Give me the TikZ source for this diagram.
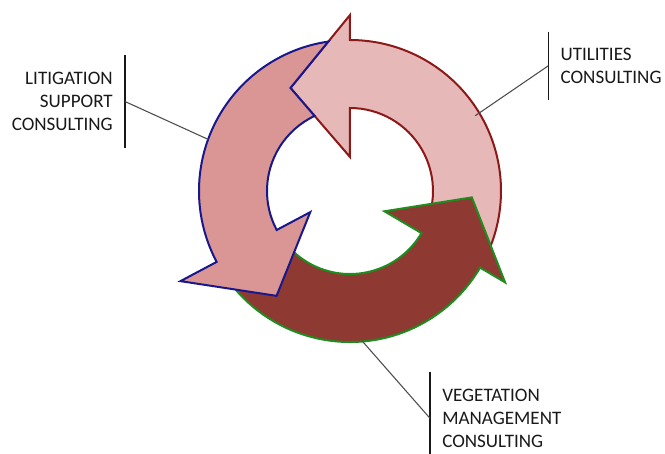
\documentclass[tikz,border=0pt]{standalone}
\usepackage{fontspec}
\setmainfont{Carlito}
\usetikzlibrary{calc}

\definecolor{utilfill}{RGB}{230,185,184}
\definecolor{utilline}{RGB}{140,24,24}
\definecolor{litfill}{RGB}{217,150,148}
\definecolor{litline}{RGB}{24,24,140}
\definecolor{vegfill}{RGB}{142,58,51}
\definecolor{vegline}{RGB}{30,140,30}

\begin{document}
\begin{tikzpicture}[x=0.75pt, y=0.75pt]
        \tikzset{band/.style={line width=1.5pt, line join=miter}}
        \tikzset{lbl/.style={font=\fontsize{14.3pt}{17pt}\selectfont, text=black!90,
            inner xsep=9pt, inner ysep=0pt, minimum height=69.75pt}}
        \tikzset{tick/.style={line width=0.8pt, black!90}}
        \tikzset{lead/.style={line width=0.8pt, black!70}}

        \clip (-350,-263) rectangle (315,191);

        % utilities arrow
        \coordinate (utipA) at (90:176);
        \coordinate (utip) at (120:119);
        \coordinate (utipB) at (90:34);
        \draw[band, fill=utilfill, draw=utilline]
            (-25:151) arc[start angle=-25, end angle=90, radius=151]
            -- (utipA) -- (utip) -- (utipB) -- (90:83)
            arc[start angle=90, end angle=-25, radius=83] -- cycle;

        % vegetation arrow
        \draw[band, fill=vegfill, draw=vegline]
            (213:151) arc[start angle=213, end angle=329.5, radius=151]
            -- (329.5:180) -- (357:122) -- (329.5:40) -- (329.5:83)
            arc[start angle=329.5, end angle=213, radius=83] -- cycle;

        % litigation arrow, its tail cut along the utilities head
        \coordinate (ucutP) at ($(utipA)!.3642!(utip)$);
        \draw[band, fill=litfill, draw=litline]
            (ucutP) arc[start angle=98.25, end angle=208, radius=151]
            -- (208:192) -- (235:128) -- (208:45) -- (208:83)
            arc[start angle=208, end angle=115.24, radius=83] -- (utip) -- cycle;

        % labels
        \node[lbl, anchor=east, align=right] (lit) at (-225,89.5) {LITIGATION\\SUPPORT\\CONSULTING};
        \node[lbl, anchor=west, align=left, minimum height=51pt] (util) at (198.3,125.2) {UTILITIES\\CONSULTING};
        \node[lbl, anchor=west, align=left] (veg) at (80,-227.3) {VEGETATION\\MANAGEMENT\\CONSULTING};

        \coordinate (lit-end) at (160:151);
        \coordinate (util-end) at (31:146);
        \coordinate (veg-end) at (-85.5:150);

        \draw[tick] (lit.north east) -- (lit.south east);
        \draw[tick] (util.north west) -- (util.south west);
        \draw[tick] (veg.north west) -- (veg.south west);

        \draw[lead] (lit.east) -- (lit-end);
        \draw[lead] (util.west) -- (util-end);
        \draw[lead] (veg.west) -- (veg-end);
    \end{tikzpicture}
\end{document}
